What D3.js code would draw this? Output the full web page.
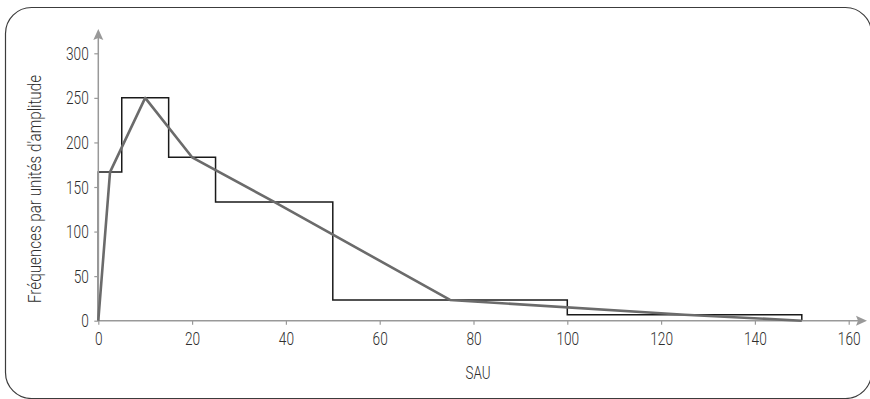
<!DOCTYPE html>
<html>
<head>
<meta charset="utf-8">
<script src="https://cdn.jsdelivr.net/npm/d3@7"></script>
<style>
  html, body { margin: 0; padding: 0; background: #fff; }
  svg text { font-family: Roboto, "Liberation Sans", sans-serif; font-weight: 300; fill: #2e2e2e; }
</style>
</head>
<body>
<svg id="chart" width="870" height="399"></svg>
<script>
// Class bounds (SAU) and frequency per unit of amplitude
const binStart = [0, 5, 15, 25, 50, 100];
const binEnd   = [5, 15, 25, 50, 100, 150];
const density  = [166.7, 250, 183.3, 133.3, 23.3, 6.7];

// Frequency polygon vertices
const polyX = [0, 2.5, 10, 20, 37.5, 75, 125, 150];
const polyY = [0, 166.7, 250, 183.3, 133.3, 23.3, 6.7, 0];

const xTicks = [0, 20, 40, 60, 80, 100, 120, 140, 160];
const yTicks = [0, 50, 100, 150, 200, 250, 300];

const xTitle = "SAU";
const yTitle = "Fréquences par unités d'amplitude";

const svg = d3.select("#chart");

// Squeeze a text horizontally to mimic a condensed face
function condense(sel, factor) {
  sel.each(function () {
    const w = this.getComputedTextLength();
    d3.select(this).attr("textLength", w * factor).attr("lengthAdjust", "spacingAndGlyphs");
  });
}

// Rounded frame
svg.append("rect")
  .attr("x", 5.5).attr("y", 7.5)
  .attr("width", 866).attr("height", 391)
  .attr("rx", 26).attr("ry", 26)
  .attr("fill", "none").attr("stroke", "#3c3c3c").attr("stroke-width", 1.2);

const x = d3.scaleLinear().domain([0, 160]).range([98.3, 848.7]);
const y = d3.scaleLinear().domain([0, 300]).range([320.7, 53.3]);

const axisColor = "#999";

// Histogram outline (staircase over the classes)
const stepPts = [[binStart[0], 0]];
density.forEach((d, i) => { stepPts.push([binStart[i], d], [binEnd[i], d]); });
stepPts.push([binEnd[binEnd.length - 1], 0]);

svg.append("path")
  .datum(stepPts)
  .attr("d", d3.line().x(d => x(d[0])).y(d => y(d[1])))
  .attr("fill", "none")
  .attr("stroke", "#1a1a1a")
  .attr("stroke-width", 1.5)
  .attr("stroke-linejoin", "miter");

// Axes
const gx = svg.append("g").attr("transform", `translate(0,${y(0)})`)
  .call(d3.axisBottom(x).tickValues(xTicks).tickSize(4).tickPadding(7).tickFormat(d3.format("d")));
gx.select(".domain").remove();
gx.selectAll(".tick line").attr("stroke", axisColor).attr("stroke-width", 1.2);
gx.selectAll(".tick text").attr("font-size", 19).attr("fill", "#2e2e2e").call(condense, 0.72);

const gy = svg.append("g").attr("transform", `translate(${x(0)},0)`)
  .call(d3.axisLeft(y).tickValues(yTicks).tickSize(4).tickPadding(5.5).tickFormat(d3.format("d")));
gy.select(".domain").remove();
gy.selectAll(".tick line").attr("stroke", axisColor).attr("stroke-width", 1.2);
gy.selectAll(".tick text").attr("font-size", 19).attr("fill", "#2e2e2e").call(condense, 0.72);

// Axis lines with arrow heads
svg.append("line")
  .attr("x1", x(0)).attr("x2", 858).attr("y1", y(0)).attr("y2", y(0))
  .attr("stroke", axisColor).attr("stroke-width", 1.5);
svg.append("path")
  .attr("d", `M867,${y(0)} L856,${y(0) - 5} L858,${y(0)} L856,${y(0) + 5} Z`)
  .attr("fill", axisColor);
svg.append("line")
  .attr("x1", x(0)).attr("x2", x(0)).attr("y1", y(0)).attr("y2", 38)
  .attr("stroke", axisColor).attr("stroke-width", 1.5);
svg.append("path")
  .attr("d", `M${x(0)},29 L${x(0) - 5},40 L${x(0)},38 L${x(0) + 5},40 Z`)
  .attr("fill", axisColor);

// Frequency polygon
svg.append("path")
  .datum(polyX.map((v, i) => [v, polyY[i]]))
  .attr("d", d3.line().x(d => x(d[0])).y(d => y(d[1])))
  .attr("fill", "none")
  .attr("stroke", "#6b6b6b")
  .attr("stroke-width", 2.6)
  .attr("stroke-linejoin", "round");

// Axis titles
svg.append("text")
  .attr("x", 478).attr("y", 379)
  .attr("text-anchor", "middle")
  .attr("font-size", 19)
  .attr("textLength", 25).attr("lengthAdjust", "spacingAndGlyphs")
  .text(xTitle);

svg.append("text")
  .attr("transform", "translate(40.5,189) rotate(-90)")
  .attr("text-anchor", "middle")
  .attr("font-size", 18)
  .attr("textLength", 228).attr("lengthAdjust", "spacingAndGlyphs")
  .text(yTitle);
</script>
</body>
</html>
